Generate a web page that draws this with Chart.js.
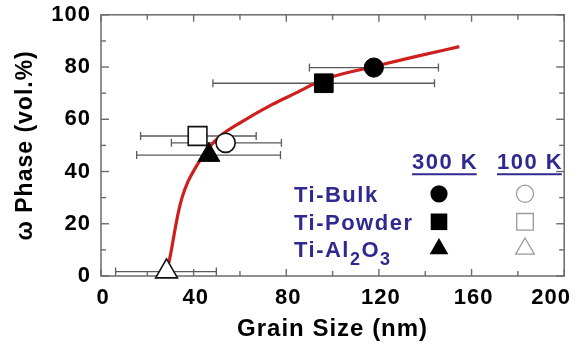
<!DOCTYPE html>
<html><head><meta charset="utf-8">
<script src="https://cdn.jsdelivr.net/npm/chart.js@4/dist/chart.umd.min.js"></script>
<style>html,body{margin:0;padding:0;background:#fff}#wrap{width:579px;height:348px}</style>
</head><body><div id="wrap"><canvas id="c" width="579" height="348"></canvas></div>
<script>
// ---- data ----
const xTicks = [0, 40, 80, 120, 160, 200];
const xMinorTicks = [20, 60, 100, 140, 180];
const yTicks = [0, 20, 40, 60, 80, 100];
const yMinorTicks = [10, 30, 50, 70, 90];
const samples = ['Ti-Bulk', 'Ti-Powder', 'Ti-Al2O3'];
const temps = ['300 K', '100 K'];
const size300 = [117.8, 96.2, 46.6];
const phase300 = [79.8, 73.8, 46.3];
const errLow300 = [90, 48.3, 15.4];
const errHigh300 = [145.7, 144, 77.5];
const size100 = [53.8, 41.7, 28.3];
const phase100 = [51, 53.6, 1.7];
const errLow100 = [30.4, 17.1, 6.3];
const errHigh100 = [77.9, 67, 49.8];
const fitSize = [29.3, 30.4, 31.8, 33.3, 35, 37.5, 40.5, 45.9, 51.5, 61.3, 74, 84, 96.4, 117.8, 135.7, 154.7];
const fitPhase = [5, 10, 17, 24, 30, 36, 41, 48.3, 53.6, 59.3, 65.7, 70, 75.3, 80.2, 84, 87.8];

// ---- styles ----
const FONT = '"Liberation Sans", Arial, Helvetica, sans-serif';
const axisColor = '#6b6b6b';
const errColor = '#5a5a5a';
const fitColor = '#cf1f1c';
const legendColor = '#30298f';
const styles = ['circle', 'rect', 'triangle'];
const radii = [9.6, 13.2, 12.6];

const markerSets = [];
samples.forEach((s, i) => {
  markerSets.push({label: s + ' ' + temps[0], data: [{x: size300[i], y: phase300[i]}],
    pointStyle: styles[i], pointRadius: radii[i], backgroundColor: '#000', borderColor: '#000',
    borderWidth: 1, clip: false, order: 0, showLine: false});
  markerSets.push({label: s + ' ' + temps[1], data: [{x: size100[i], y: phase100[i]}],
    pointStyle: styles[i], pointRadius: radii[i], backgroundColor: '#fff', borderColor: '#111',
    borderWidth: 1.6, clip: false, order: 0, showLine: false});
});

const frame = {
  id: 'frame',
  beforeDatasetsDraw(chart) {
    const {ctx, chartArea: a, scales: {x, y}} = chart;
    ctx.save();
    ctx.strokeStyle = axisColor;
    ctx.lineWidth = 1.4;
    const seg = (x1, y1, x2, y2) => { ctx.beginPath(); ctx.moveTo(x1, y1); ctx.lineTo(x2, y2); ctx.stroke(); };
    xTicks.concat(xMinorTicks).forEach(v => {
      const p = x.getPixelForValue(v), L = xTicks.includes(v) ? 7 : 5;
      seg(p, a.bottom, p, a.bottom - L); seg(p, a.top, p, a.top + L);
    });
    yTicks.concat(yMinorTicks).forEach(v => {
      const p = y.getPixelForValue(v), L = yTicks.includes(v) ? 8 : 5;
      seg(a.left, p, a.left + L, p); seg(a.right, p, a.right - L, p);
    });
    ctx.lineWidth = 1.5;
    ctx.strokeRect(a.left, a.top, a.right - a.left, a.bottom - a.top);
    // error bars
    ctx.strokeStyle = errColor; ctx.lineWidth = 1.3;
    const bar = (lo, hi, v) => {
      const py = y.getPixelForValue(v), p1 = x.getPixelForValue(lo), p2 = x.getPixelForValue(hi);
      seg(p1, py, p2, py); seg(p1, py - 4, p1, py + 4); seg(p2, py - 4, p2, py + 4);
    };
    samples.forEach((s, i) => { bar(errLow300[i], errHigh300[i], phase300[i]); bar(errLow100[i], errHigh100[i], phase100[i]); });
    // x tick labels (last label kept inside the canvas)
    ctx.fillStyle = '#000'; ctx.font = 'bold 22px ' + FONT; ctx.textAlign = 'center'; ctx.textBaseline = 'middle';
    ctx.letterSpacing = '1px';
    xTicks.forEach(v => {
      let p = x.getPixelForValue(v);
      const w = ctx.measureText(String(v)).width;
      if (p + w / 2 > chart.width - 10) p = chart.width - 10 - w / 2;
      ctx.fillText(String(v), p + 2, a.bottom + 22);
    });
    ctx.restore();
  }
};

const legendPlugin = {
  id: 'legendBox',
  afterDraw(chart) {
    const {ctx, chartArea: a} = chart;
    ctx.save();
    ctx.letterSpacing = '1.5px';
    ctx.fillStyle = legendColor; ctx.strokeStyle = legendColor;
    ctx.font = 'bold 22px ' + FONT; ctx.textBaseline = 'alphabetic'; ctx.textAlign = 'left';
    const textX = a.left + 193, col = [a.left + 338, a.left + 424], headX = [a.left + 311, a.left + 396];
    const headY = a.top + 154, rows = [a.top + 179, a.top + 207, a.top + 234];
    temps.forEach((t, j) => {
      ctx.fillText(t, headX[j], headY);
      const w = ctx.measureText(t).width - 1.5;
      ctx.lineWidth = 2; ctx.beginPath(); ctx.moveTo(headX[j], headY + 5.5); ctx.lineTo(headX[j] + w, headY + 5.5); ctx.stroke();
    });
    samples.forEach((s, i) => {
      const by = rows[i] + 8;
      const m = s.match(/^(.*?)(\d)(.*?)(\d)$/);
      if (m) {
        let cx = textX;
        const parts = [[m[1], 22, 0], [m[2], 18, 8], [m[3], 22, 0], [m[4], 18, 8]];
        parts.forEach(([txt, fs, dy]) => {
          ctx.font = 'bold ' + fs + 'px ' + FONT;
          ctx.fillText(txt, cx, by + dy);
          cx += ctx.measureText(txt).width;
        });
        ctx.font = 'bold 22px ' + FONT;
      } else {
        ctx.fillText(s, textX, by);
      }
    });
    // legend markers
    const mark = (style, cx, cy, filled) => {
      ctx.beginPath();
      if (style === 'circle') ctx.arc(cx, cy, 8.6, 0, Math.PI * 2);
      else if (style === 'rect') ctx.rect(cx - 8.3, cy - 8.3, 16.6, 16.6);
      else { const r = 10.8; ctx.moveTo(cx, cy - r); ctx.lineTo(cx + 0.866 * r, cy + 0.5 * r); ctx.lineTo(cx - 0.866 * r, cy + 0.5 * r); ctx.closePath(); }
      if (filled) { ctx.fillStyle = '#000'; ctx.fill(); }
      else { ctx.strokeStyle = '#9a9a9a'; ctx.lineWidth = 1.3; ctx.fillStyle = '#fff'; ctx.fill(); ctx.stroke(); }
    };
    samples.forEach((s, i) => { mark(styles[i], col[0], rows[i], true); mark(styles[i], col[1], rows[i], false); });
    ctx.restore();
  }
};

const spacing = {id: 'spacing', beforeDraw(chart) { chart.ctx.letterSpacing = '1px'; }};

new Chart(document.getElementById('c'), {
  type: 'scatter',
  data: {datasets: [
    {label: 'fit', type: 'line', data: fitSize.map((v, i) => ({x: v, y: fitPhase[i]})),
     borderColor: fitColor, borderWidth: 3.2, pointRadius: 0, cubicInterpolationMode: 'monotone',
     fill: false, order: 2, clip: false},
    ...markerSets
  ]},
  options: {
    responsive: false, animation: false, devicePixelRatio: 1,
    layout: {padding: {top: 13, right: 3, left: 0, bottom: 0}},
    plugins: {legend: {display: false}, tooltip: {enabled: false}},
    scales: {
      x: {type: 'linear', min: 0, max: 200,
        grid: {display: false, drawTicks: false}, border: {display: false},
        ticks: {display: false, stepSize: 40},
        title: {display: true, text: 'Grain Size (nm)', color: '#000',
          font: {family: FONT, size: 24, weight: 'bold'}, padding: {top: 0, bottom: 4}},
        afterFit(s) { s.height = 72; s.paddingLeft = 0; s.paddingRight = 0; }
      },
      y: {type: 'linear', min: 0, max: 100,
        grid: {display: false, drawTicks: false}, border: {display: false},
        ticks: {stepSize: 20, color: '#000', padding: 10, font: {family: FONT, size: 22, weight: 'bold'}},
        title: {display: true, text: 'ω Phase (vol.%)', color: '#000',
          font: {family: FONT, size: 23, weight: 'bold'}, padding: {top: 12, bottom: 0}},
        afterFit(s) { s.width = 101; s.paddingTop = 0; s.paddingBottom = 0; }
      }
    }
  },
  plugins: [spacing, frame, legendPlugin]
});
</script>
</body></html>
